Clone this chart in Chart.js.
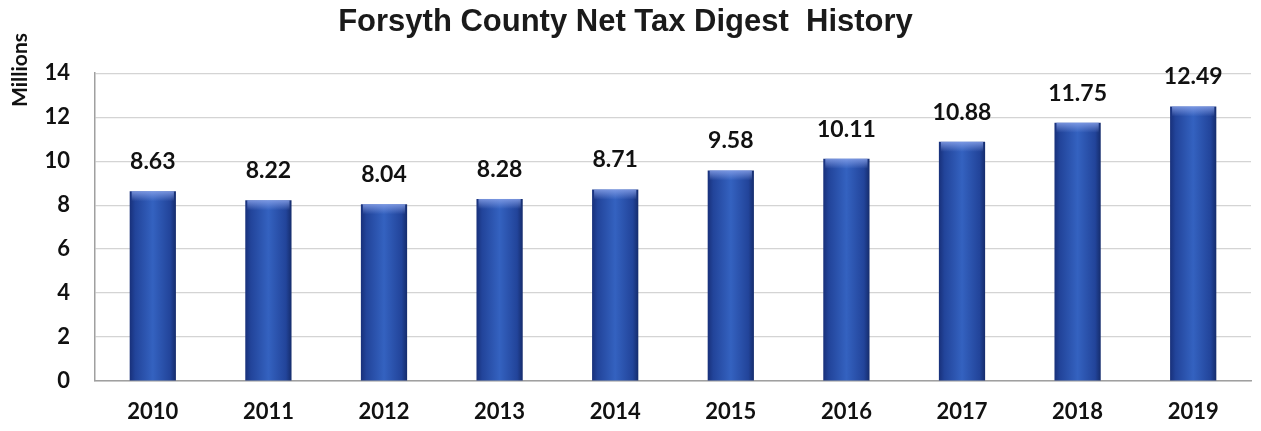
<!DOCTYPE html>
<html><head><meta charset="utf-8">
<script src="https://cdn.jsdelivr.net/npm/chart.js@4/dist/chart.umd.min.js"></script>
<style>html,body{margin:0;padding:0;background:#fff}#wrap{width:1261px;height:431px}</style>
</head><body><div id="wrap"><canvas id="c"></canvas></div>
<script>
const categories = ['2010','2011','2012','2013','2014','2015','2016','2017','2018','2019'];
const values = [8.63, 8.22, 8.04, 8.28, 8.71, 9.58, 10.11, 10.88, 11.75, 12.49];
const valueLabels = ['8.63','8.22','8.04','8.28','8.71','9.58','10.11','10.88','11.75','12.49'];
const yTicks = [0,2,4,6,8,10,12,14];
const titleText = 'Forsyth County Net Tax Digest  History';
const axisTitle = 'Millions';

function barFill(c){
  const chart = c.chart, sx = chart.scales.x;
  if (!sx || !chart.chartArea || c.dataIndex === undefined) return '#2a4fa5';
  const x = sx.getPixelForValue(c.dataIndex);
  const w = (sx.width / categories.length) * 0.4;
  const g = chart.ctx.createLinearGradient(x - w/2, 0, x + w/2, 0);
  g.addColorStop(0, '#18307a');
  g.addColorStop(0.12, '#22449a');
  g.addColorStop(0.5, '#3462c0');
  g.addColorStop(0.88, '#22449a');
  g.addColorStop(1, '#152c6c');
  return g;
}

const extras = {
  id: 'extras',
  afterDatasetsDraw(chart){
    const ctx = chart.ctx, meta = chart.getDatasetMeta(0);
    ctx.save();
    meta.data.forEach((el, i) => {
      const w = el.width;
      const g = ctx.createLinearGradient(0, el.y, 0, el.y + 10);
      g.addColorStop(0, 'rgba(140,165,235,0.8)');
      g.addColorStop(1, 'rgba(140,165,235,0)');
      ctx.fillStyle = g;
      ctx.fillRect(el.x - w/2 + 2, el.y, w - 4, 10);
      ctx.fillStyle = '#111';
      ctx.font = 'bold 23px Lato, "Open Sans", sans-serif';
      ctx.textAlign = 'center';
      ctx.textBaseline = 'bottom';
      ctx.fillText(valueLabels[i], el.x, el.y - 18);
    });
    ctx.translate(20, 70);
    ctx.rotate(-Math.PI/2);
    ctx.fillStyle = '#111';
    ctx.font = 'bold 21px Lato, "Open Sans", sans-serif';
    ctx.textAlign = 'center';
    ctx.textBaseline = 'middle';
    ctx.fillText(axisTitle, 0, 0);
    ctx.restore();
  }
};

new Chart(document.getElementById('c'), {
  type: 'bar',
  data: { labels: categories, datasets: [{ data: values, backgroundColor: barFill, borderWidth: 0, barPercentage: 0.4, categoryPercentage: 1.0 }] },
  options: {
    responsive: true, maintainAspectRatio: false, animation: false,
    layout: { padding: { top: 0, right: 10, left: 0, bottom: 0 } },
    plugins: {
      legend: { display: false }, tooltip: { enabled: false },
      title: { display: true, text: titleText, color: '#1a1a1a',
        font: { family: '"Liberation Sans", Arial, sans-serif', size: 31, weight: 'bold' },
        padding: { top: 4, bottom: 32 } }
    },
    scales: {
      x: {
        grid: { display: false, drawTicks: false },
        border: { display: true, color: '#a0a0a0', width: 1.5 },
        ticks: { color: '#111', padding: 18, font: { family: 'Lato, "Open Sans", sans-serif', size: 22, weight: 'bold' } },
        afterFit(s){ s.height = 50; }
      },
      y: {
        min: 0, max: 14,
        afterBuildTicks(s){ s.ticks = yTicks.map(v => ({ value: v })); },
        grid: { color: '#d4d4d4', lineWidth: 1.2, drawTicks: false },
        border: { display: true, color: '#a0a0a0', width: 1.5 },
        ticks: { color: '#111', padding: 25, font: { family: 'Lato, "Open Sans", sans-serif', size: 22, weight: 'bold' } },
        afterFit(s){ s.width = 95; }
      }
    }
  },
  plugins: [extras]
});
</script></body></html>
